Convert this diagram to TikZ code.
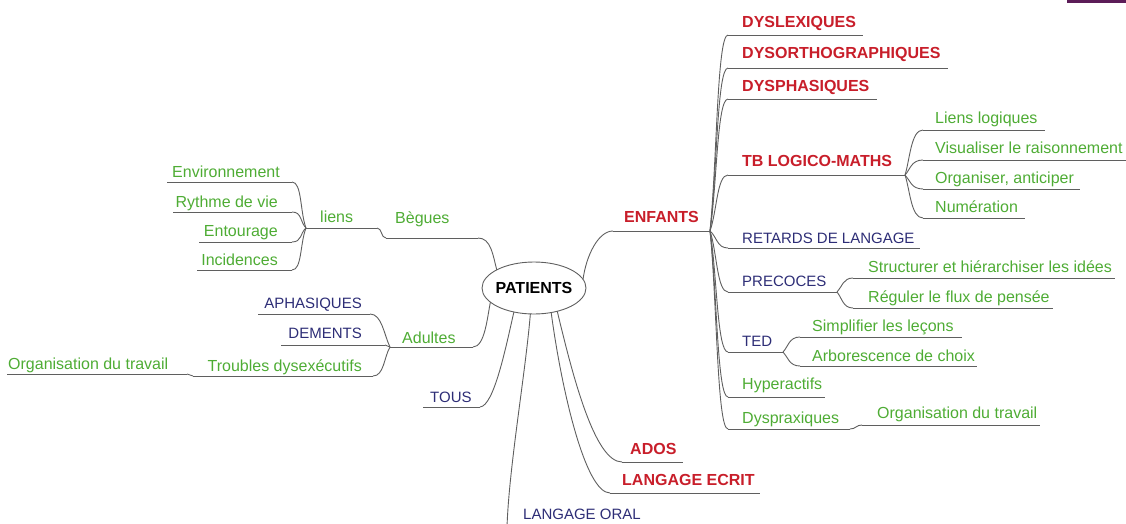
\documentclass[tikz,border=0pt]{standalone}
\usepackage{fontspec}
\setmainfont{Liberation Sans}
\usetikzlibrary{shapes.geometric}
\definecolor{mmred}{RGB}{200,30,42}
\definecolor{mmblue}{RGB}{45,45,118}
\definecolor{mmgreen}{RGB}{78,172,52}
\definecolor{mmline}{RGB}{95,95,95}
\definecolor{mmpurple}{RGB}{92,28,88}
% one branch: underline from (xs,y) to (xe,y) and its label
% #1 name  #2 xs  #3 xe  #4 y  #5 style  #6 anchor side  #7 text x  #8 text baseline  #9 text
\newcommand\mmitem[9]{%
  \coordinate (#1-l) at (#2,#4);
  \coordinate (#1-r) at (#3,#4);
  \draw[link] (#1-l) -- (#1-r);
  \node[#5, anchor=base #6] (#1) at (#7,#8) {#9};
}
\begin{document}
\begin{tikzpicture}[x=1pt,y=-1pt,
  link/.style={draw=mmline, line width=0.9pt},
  redlbl/.style={text=mmred, font=\fontsize{16}{18}\selectfont\bfseries, inner sep=0},
  bluelbl/.style={text=mmblue, font=\fontsize{15}{17}\selectfont, inner sep=0},
  greenlbl/.style={text=mmgreen, font=\fontsize{16}{18}\selectfont, inner sep=0},
]
\useasboundingbox (0,0) rectangle (1126,524);
\fill[mmpurple] (1067,0) rectangle (1126,3.5);

% centre
\node[ellipse, draw=mmline, line width=0.9pt, minimum width=104pt, minimum height=52pt,
      inner sep=0, outer sep=0] (pat) at (534,288) {};
\node[font=\fontsize{16}{18}\selectfont\bfseries, inner sep=0] (pattxt) at (pat.center) {PATIENTS};

% ---- left side
\mmitem{env}{167}{292}{182}{greenlbl}{east}{280}{177}{Environnement}
\mmitem{ryth}{173}{292}{212}{greenlbl}{east}{278}{207}{Rythme de vie}
\mmitem{ento}{199}{292}{242}{greenlbl}{east}{278}{236}{Entourage}
\mmitem{inci}{197}{292}{270}{greenlbl}{east}{278}{265}{Incidences}
\mmitem{liens}{306}{377}{228}{greenlbl}{west}{320}{222}{liens}
\mmitem{begues}{386}{478}{238}{greenlbl}{west}{395}{223}{Bègues}
\mmitem{aphas}{258}{370}{314}{bluelbl}{east}{362}{308}{APHASIQUES}
\mmitem{dem}{281}{385}{345}{bluelbl}{east}{362}{338}{DEMENTS}
\mmitem{troub}{193}{373}{376}{greenlbl}{east}{362}{371}{Troubles dysexécutifs}
\mmitem{orgl}{7}{187}{374}{greenlbl}{west}{8}{369}{Organisation du travail}
\mmitem{adultes}{390}{473}{347}{greenlbl}{west}{402}{343}{Adultes}
\mmitem{tous}{423}{480}{407}{bluelbl}{west}{430}{402}{TOUS}
\node[bluelbl, anchor=base west] (oral) at (523,519) {LANGAGE ORAL};
\coordinate (oral-end) at (507,527);

% ---- right side
\mmitem{enf}{613}{710}{231}{redlbl}{west}{624}{222}{ENFANTS}
\mmitem{dysl}{728}{863}{35}{redlbl}{west}{742}{28}{DYSLEXIQUES}
\mmitem{dyso}{728}{948}{68}{redlbl}{west}{742}{59}{DYSORTHOGRAPHIQUES}
\mmitem{dysp}{728}{877}{99}{redlbl}{west}{742}{92}{DYSPHASIQUES}
\mmitem{tb}{728}{905}{175}{redlbl}{west}{742}{166}{TB LOGICO-MATHS}
\mmitem{liensl}{923}{1045}{130}{greenlbl}{west}{935}{124}{Liens logiques}
\mmitem{visu}{923}{1130}{160}{greenlbl}{west}{935}{153}{Visualiser le raisonnement}
\mmitem{orga}{923}{1080}{189}{greenlbl}{west}{935}{183}{Organiser, anticiper}
\mmitem{numer}{923}{1025}{218}{greenlbl}{west}{935}{212}{Numération}
\mmitem{ret}{728}{920}{248}{bluelbl}{west}{742}{243}{RETARDS DE LANGAGE}
\mmitem{prec}{728}{837}{292}{bluelbl}{west}{742}{286}{PRECOCES}
\mmitem{struct}{853}{1115}{278}{greenlbl}{west}{868}{272}{Structurer et hiérarchiser les idées}
\mmitem{regul}{853}{1053}{308}{greenlbl}{west}{868}{302}{Réguler le flux de pensée}
\mmitem{ted}{728}{783}{352}{bluelbl}{west}{742}{346}{TED}
\mmitem{simpl}{800}{962}{337}{greenlbl}{west}{812}{331}{Simplifier les leçons}
\mmitem{arbo}{800}{977}{366}{greenlbl}{west}{812}{361}{Arborescence de choix}
\mmitem{hyper}{728}{825}{397}{greenlbl}{west}{742}{389}{Hyperactifs}
\mmitem{dyspra}{728}{850}{429}{greenlbl}{west}{742}{423}{Dyspraxiques}
\mmitem{orgr}{862}{1040}{425}{greenlbl}{west}{877}{418}{Organisation du travail}
\mmitem{ados}{622}{683}{462}{redlbl}{west}{630}{454}{ADOS}
\mmitem{ecrit}{610}{760}{493}{redlbl}{west}{622}{485}{LANGAGE ECRIT}

% ---- connectors, centre to main branches
\draw[link] (begues-r) .. controls +(13,0) and +(-4,-15) .. (pat.154);
\draw[link] (adultes-r) .. controls +(12,0) and +(-3,14) .. (pat.198);
\draw[link] (tous-r) .. controls +(14,-1) and +(-8,35) .. (pat.230);
\draw[link] (pat.262) .. controls +(-5,60) and +(2,-60) .. (oral-end);
\draw[link] (pat.305) .. controls +(10,75) and +(-25,0) .. (ecrit-l);
\draw[link] (pat.315) .. controls +(16,67) and +(-27,0) .. (ados-l);
\draw[link] (enf-l) .. controls +(-15,0) and +(3,-23) .. (pat.10);

% ---- left sub-branches
\draw[link] (liens-r) .. controls +(5,0) and +(-5,0) .. (begues-l);
\draw[link] (liens-l) .. controls +(-6,-16) and +(10,0) .. (env-r);
\draw[link] (liens-l) .. controls +(-6,-6) and +(10,0) .. (ryth-r);
\draw[link] (liens-l) .. controls +(-6,5) and +(10,0) .. (ento-r);
\draw[link] (liens-l) .. controls +(-6,15) and +(10,0) .. (inci-r);
\draw[link] (adultes-l) .. controls +(-6,-12) and +(12,0) .. (aphas-r);
\draw[link] (adultes-l) .. controls +(-2,0) and +(2,0) .. (dem-r);
\draw[link] (adultes-l) .. controls +(-6,10) and +(11,0) .. (troub-r);
\draw[link] (troub-l) .. controls +(-3,0) and +(3,0) .. (orgl-r);

% ---- right sub-branches
\foreach \c/\d in {dysl/-69, dyso/-57, dysp/-46, tb/-20, ret/6, prec/21, ted/42, hyper/58, dyspra/69}
  \draw[link] (enf-r) .. controls +(7,\d) and +(-11,0) .. (\c-l);
\foreach \c/\d in {liensl/-16, visu/-5, orga/5, numer/15}
  \draw[link] (tb-r) .. controls +(5,\d) and +(-12,0) .. (\c-l);
\foreach \c/\d in {struct/-5, regul/6}
  \draw[link] (prec-r) .. controls +(5,\d) and +(-10,0) .. (\c-l);
\foreach \c/\d in {simpl/-5, arbo/5}
  \draw[link] (ted-r) .. controls +(5,\d) and +(-11,0) .. (\c-l);
\draw[link] (dyspra-r) .. controls +(6,0) and +(-6,0) .. (orgr-l);
\end{tikzpicture}
\end{document}
